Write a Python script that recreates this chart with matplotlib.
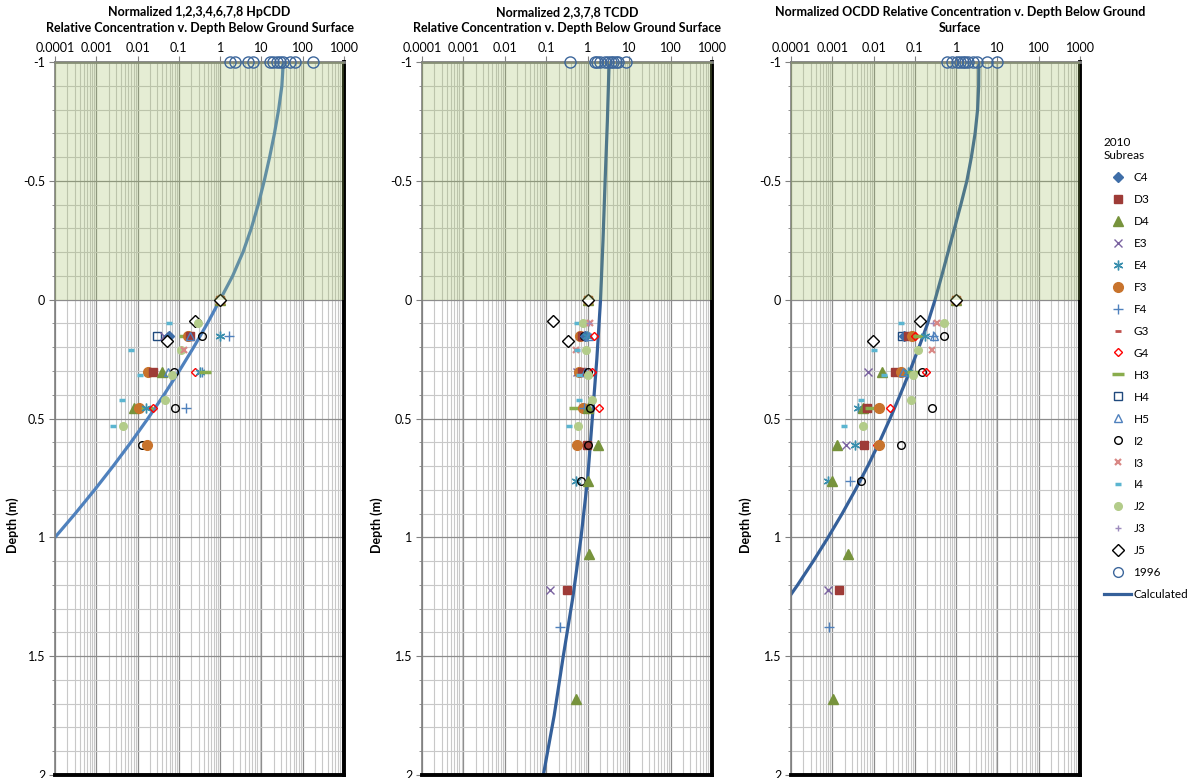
import numpy as np
import matplotlib
matplotlib.use("Agg")
import matplotlib.pyplot as plt
from matplotlib.lines import Line2D
from matplotlib.ticker import LogLocator, FixedLocator, NullFormatter, MultipleLocator


plt.rcParams['font.family'] = ['Lato', 'DejaVu Sans']

# Titles of the three panels
TITLES = [
    "Normalized 1,2,3,4,6,7,8 HpCDD\nRelative Concentration v. Depth Below Ground Surface",
    "Normalized 2,3,7,8 TCDD\nRelative Concentration v. Depth Below Ground Surface",
    "Normalized OCDD Relative Concentration v. Depth Below Ground\nSurface",
]

X_TICKS = [0.0001, 0.001, 0.01, 0.1, 1, 10, 100, 1000]
X_TICK_LABELS = ["0.0001", "0.001", "0.01", "0.1", "1", "10", "100", "1000"]
Y_TICKS = [-1, -0.5, 0, 0.5, 1, 1.5, 2]
Y_TICK_LABELS = ["-1", "-0.5", "0", "0.5", "1", "1.5", "2"]

SERIES = ["C4", "D3", "D4", "E3", "E4", "F3", "F4", "G3", "G4", "H3",
          "H4", "H5", "I2", "I3", "I4", "J2", "J3", "J5"]

# 2010 samples: (subarea, depth m, normalized concentration)
HP_SAMPLES = [
    ("D3", 0, 1), ("D4", 0, 1), ("F3", 0, 1), ("I2", 0, 1), ("J2", 0, 1), ("J5", 0, 1),
    ("J5", 0.088, 0.25), ("J2", 0.10, 0.29), ("I4", 0.10, 0.057),
    ("H4", 0.152, 0.030), ("E3", 0.152, 0.044), ("C4", 0.152, 0.057),
    ("H3", 0.152, 0.14), ("G4", 0.152, 0.16), ("F3", 0.152, 0.165), ("D3", 0.152, 0.19),
    ("H5", 0.152, 0.19), ("I2", 0.152, 0.37), ("E4", 0.152, 1.0), ("F4", 0.152, 1.6),
    ("J5", 0.172, 0.051), ("I4", 0.212, 0.0069), ("J2", 0.212, 0.11), ("I3", 0.212, 0.13),
    ("F3", 0.306, 0.018), ("D3", 0.306, 0.023), ("D4", 0.306, 0.040), ("H5", 0.306, 0.055),
    ("I2", 0.306, 0.077), ("G4", 0.306, 0.245), ("E4", 0.306, 0.33), ("F4", 0.306, 0.37),
    ("H3", 0.306, 0.43), ("I4", 0.317, 0.0115), ("J2", 0.317, 0.07),
    ("I4", 0.422, 0.0041), ("J2", 0.422, 0.046),
    ("D4", 0.457, 0.0083), ("F3", 0.457, 0.0107), ("H3", 0.457, 0.0166), ("E4", 0.457, 0.016),
    ("G4", 0.457, 0.023), ("I2", 0.457, 0.081), ("F4", 0.457, 0.15),
    ("I4", 0.53, 0.0026), ("J2", 0.53, 0.0045),
    ("I2", 0.61, 0.0128), ("F3", 0.61, 0.0166),
]

TC_SAMPLES = [
    ("D3", 0, 1), ("D4", 0, 1), ("F3", 0, 1), ("I2", 0, 1), ("J2", 0, 1), ("J5", 0, 1),
    ("J5", 0.088, 0.145), ("I4", 0.10, 0.55), ("J2", 0.10, 0.76), ("I3", 0.10, 1.15),
    ("J3", 0.10, 1.05),
    ("F3", 0.152, 0.66), ("D3", 0.152, 0.74), ("I2", 0.152, 0.81), ("C4", 0.152, 0.85),
    ("E4", 0.152, 0.95), ("H5", 0.152, 1.1), ("G4", 0.152, 1.38),
    ("J5", 0.172, 0.34), ("I3", 0.212, 0.52), ("I4", 0.212, 0.56), ("J2", 0.212, 0.89),
    ("E3", 0.306, 0.55), ("F3", 0.306, 0.62), ("D3", 0.306, 0.74), ("H5", 0.306, 0.85),
    ("I2", 0.306, 1.0), ("G4", 0.306, 1.26), ("I4", 0.317, 0.60), ("J2", 0.317, 1.04),
    ("I4", 0.422, 0.63), ("J2", 0.422, 1.29),
    ("H3", 0.457, 0.50), ("F3", 0.457, 0.76), ("F4", 0.457, 0.80), ("D4", 0.457, 1.0),
    ("I2", 0.457, 1.15), ("G4", 0.457, 1.9),
    ("I4", 0.53, 0.36), ("J2", 0.53, 0.58),
    ("F3", 0.61, 0.56), ("D3", 0.61, 0.96), ("I2", 0.61, 1.04), ("D4", 0.61, 1.74),
    ("E4", 0.761, 0.52), ("I2", 0.761, 0.68), ("D4", 0.761, 1.0),
    ("D4", 1.07, 1.07), ("E3", 1.221, 0.12), ("D3", 1.221, 0.32),
    ("F4", 1.376, 0.215), ("D4", 1.68, 0.52),
]

OC_SAMPLES = [
    ("D3", 0, 1), ("D4", 0, 1), ("F3", 0, 1), ("I2", 0, 1), ("J2", 0, 1), ("J5", 0, 1),
    ("J5", 0.088, 0.13), ("I4", 0.10, 0.046), ("J3", 0.10, 0.28), ("I3", 0.10, 0.35),
    ("J2", 0.10, 0.5),
    ("H4", 0.152, 0.048), ("C4", 0.152, 0.056), ("D3", 0.152, 0.069), ("F3", 0.152, 0.083),
    ("G4", 0.152, 0.1), ("H3", 0.152, 0.128), ("E4", 0.152, 0.18), ("F4", 0.152, 0.27),
    ("H5", 0.152, 0.29), ("I2", 0.152, 0.5),
    ("J5", 0.172, 0.0098), ("I4", 0.212, 0.01), ("J2", 0.212, 0.12), ("I3", 0.212, 0.26),
    ("E3", 0.306, 0.0074), ("D4", 0.306, 0.0157), ("D3", 0.306, 0.033), ("F3", 0.306, 0.046),
    ("H5", 0.306, 0.052), ("E4", 0.306, 0.069), ("H3", 0.306, 0.09), ("I2", 0.306, 0.145),
    ("G4", 0.306, 0.19), ("I4", 0.317, 0.018), ("J2", 0.317, 0.09),
    ("I4", 0.422, 0.005), ("J2", 0.422, 0.08),
    ("E4", 0.457, 0.0041), ("D4", 0.457, 0.0056), ("D3", 0.457, 0.0068), ("H3", 0.457, 0.0089),
    ("F3", 0.457, 0.0134), ("G4", 0.457, 0.025), ("I2", 0.457, 0.26),
    ("I4", 0.53, 0.0019), ("J2", 0.53, 0.0055),
    ("D4", 0.61, 0.0013), ("E3", 0.61, 0.0021), ("E4", 0.61, 0.0035), ("D3", 0.61, 0.006),
    ("G4", 0.61, 0.0124), ("F3", 0.61, 0.0135), ("I2", 0.61, 0.045),
    ("E4", 0.761, 0.00077), ("D4", 0.761, 0.001), ("F4", 0.761, 0.0027), ("I2", 0.761, 0.0051),
    ("D4", 1.07, 0.0024), ("E3", 1.221, 0.00079), ("D3", 1.221, 0.00145),
    ("F4", 1.376, 0.00083), ("D4", 1.68, 0.00102),
]

# 1996 samples, all plotted at depth -1
HP_1996 = [1.73, 2.28, 4.8, 6.3, 16, 19.3, 23.3, 28, 32.6, 49, 65, 177]
TC_1996 = [0.38, 1.51, 1.71, 1.99, 2.64, 3.16, 3.6, 4.17, 4.85, 5.5, 8.5]
OC_1996 = [0.59, 0.78, 1.03, 1.24, 1.43, 1.63, 1.96, 2.59, 3.24, 5.7, 9.5]
DEPTH_1996 = -1

# Calculated profiles
HP_CALC_DEPTH = [-1, -0.9, -0.8, -0.7, -0.6, -0.5, -0.4, -0.3, -0.2, -0.1, 0,
                 0.1, 0.2, 0.3, 0.4, 0.5, 0.6, 0.7, 0.8, 0.9, 1.0, 1.1]
HP_CALC = [33.9, 31.3, 26.1, 20.7, 15.8, 11.7, 8.37, 5.68, 3.58, 2.01, 1.0,
           0.49, 0.229, 0.102, 0.0437, 0.0178, 0.00692, 0.00257, 0.000912, 0.000309,
           0.0001, 0.0000309]
TC_CALC_DEPTH = [-1, -0.75, -0.5, -0.25, 0, 0.25, 0.5, 0.75, 1.0, 1.25, 1.5, 1.75, 2.0]
TC_CALC = [3.29, 2.98, 2.63, 2.34, 2.04, 1.66, 1.29, 1.0, 0.69, 0.44, 0.257, 0.155, 0.085]
OC_CALC_DEPTH = [-1, -0.9, -0.8, -0.7, -0.6, -0.5, -0.4, -0.3, -0.2, -0.1, 0,
                 0.1, 0.2, 0.3, 0.4, 0.5, 0.6, 0.7, 0.8, 0.9, 1.0, 1.1, 1.2, 1.3]
OC_CALC = [3.55, 3.51, 3.31, 2.88, 2.34, 1.82, 1.30, 0.912, 0.638, 0.447, 0.309,
           0.204, 0.126, 0.0759, 0.0442, 0.0251, 0.0138, 0.00724, 0.00363, 0.00174,
           0.000794, 0.000347, 0.000145, 0.0000575]

# marker styles per subarea
STYLE = {
    "C4": dict(marker="D", color="#3f6ea8", ms=5),
    "D3": dict(marker="s", color="#9e3b37", ms=6),
    "D4": dict(marker="^", color="#77933c", ms=7),
    "E3": dict(marker="x", color="#7a62a0", ms=6, mew=1),
    "E4": dict(marker=(6, 2, 0), color="#3a8fae", ms=7, mew=1),
    "F3": dict(marker="o", color="#c8732c", ms=7),
    "F4": dict(marker="+", color="#4f81bd", ms=7, mew=1),
    "G3": dict(marker="_", color="#c0504d", ms=4, mew=2),
    "G4": dict(marker="D", color="#ff0000", ms=4.5, mew=1, mfc="none"),
    "H3": dict(marker="_", color="#8aad4d", ms=9, mew=2.5),
    "H4": dict(marker="s", color="#1f497d", ms=6, mew=1, mfc="none"),
    "H5": dict(marker="^", color="#4f81bd", ms=6, mew=1, mfc="none"),
    "I2": dict(marker="o", color="#000000", ms=5.5, mew=1, mfc="none"),
    "I3": dict(marker="x", color="#d98885", ms=5, mew=1.6),
    "I4": dict(marker="_", color="#5bb5d0", ms=5, mew=2.5),
    "J2": dict(marker="o", color="#b3cc8a", ms=5.5),
    "J3": dict(marker="+", color="#9d8bbd", ms=5, mew=1),
    "J5": dict(marker="D", color="#000000", ms=6, mew=1, mfc="white"),
}
STYLE_1996 = dict(marker="o", color="#3d679c", ms=8, mew=1, mfc="none")
CALC_COLORS = ["#4f81bd", "#35609a", "#35609a"]

fig = plt.figure(figsize=(11.91, 7.78), dpi=100)
W, H = 1191.0, 778.0
ax_boxes = [(55, 344), (422, 712), (791, 1080)]
title_centers = [199.5, 567, 960]
panels = [
    (HP_SAMPLES, HP_1996, HP_CALC_DEPTH, HP_CALC),
    (TC_SAMPLES, TC_1996, TC_CALC_DEPTH, TC_CALC),
    (OC_SAMPLES, OC_1996, OC_CALC_DEPTH, OC_CALC),
]

for i, (samples, old, cdepth, calc) in enumerate(panels):
    x0, x1 = ax_boxes[i]
    ax = fig.add_axes([x0 / W, 1 - 775 / H, (x1 - x0) / W, 713 / H])
    ax.set_xscale("log")
    ax.set_xlim(1e-4, 1e3)
    ax.set_ylim(2, -1)
    ax.set_axisbelow(True)

    ax.xaxis.tick_top()
    ax.xaxis.set_major_locator(FixedLocator(X_TICKS))
    ax.set_xticklabels(X_TICK_LABELS, fontsize=9)
    ax.xaxis.set_minor_locator(LogLocator(base=10, subs=np.arange(2, 10), numticks=30))
    ax.xaxis.set_minor_formatter(NullFormatter())
    ax.yaxis.set_major_locator(FixedLocator(Y_TICKS))
    ax.set_yticklabels(Y_TICK_LABELS, fontsize=9)
    ax.yaxis.set_minor_locator(MultipleLocator(0.1))
    ax.tick_params(axis="x", which="major", length=4, color="#808080", pad=2)
    ax.tick_params(axis="x", which="minor", length=0)
    ax.tick_params(axis="y", which="major", length=4, color="#808080", pad=3)
    ax.tick_params(axis="y", which="minor", length=2.5, color="#808080")

    ax.grid(True, which="major", color="#8c8c8c", lw=0.9)
    ax.grid(True, which="minor", color="#c8c8c8", lw=0.8)

    for s in ("top", "left"):
        ax.spines[s].set_color("#7f7f7f")
    ax.spines["top"].set_linewidth(2)
    ax.spines["left"].set_linewidth(1.2)
    for s in ("right", "bottom"):
        ax.spines[s].set_color("black")
        ax.spines[s].set_linewidth(2.8)

    ax.plot(calc, cdepth, color=CALC_COLORS[i], lw=2.3, zorder=2, solid_capstyle="butt",
            solid_joinstyle="round")

    for name, depth, conc in samples:
        st = dict(STYLE[name])
        ax.plot([conc], [depth], ls="none", marker=st.pop("marker"), color=st.pop("color"),
                markersize=st.pop("ms"), zorder=2.5, **st)

    ax.axhspan(-1, 0, color="#9bbb59", alpha=0.26, lw=0, zorder=3)

    ax.plot(old, [DEPTH_1996] * len(old), ls="none", marker=STYLE_1996["marker"],
            color=STYLE_1996["color"], markersize=STYLE_1996["ms"], mew=1, mfc="none",
            zorder=6, clip_on=False)

    ax.set_ylabel("Depth (m)", fontsize=9, fontweight="bold")
    ax.yaxis.set_label_coords(-0.125 if i == 0 else -0.135, 0.35)

    fig.text(title_centers[i] / W, 1 - 6 / H, TITLES[i], ha="center", va="top",
             fontsize=9, fontweight="bold", linespacing=1.35)

# legend
handles = []
for name in SERIES:
    st = dict(STYLE[name])
    handles.append(Line2D([0], [0], ls="none", marker=st.pop("marker"), color=st.pop("color"),
                          markersize=st.pop("ms"), **st))
handles.append(Line2D([0], [0], ls="none", marker="o", color=STYLE_1996["color"],
                      markersize=7, mew=1, mfc="none"))
handles.append(Line2D([0], [0], color="#35609a", lw=2.3))
labels = SERIES + ["1996", "Calculated"]
leg = fig.legend(handles, labels, loc="upper left", bbox_to_anchor=(1104 / W, 1 - 137 / H),
                 frameon=False, fontsize=8.5, title="2010\nSubreas", title_fontsize=8.5,
                 labelspacing=0.93, handlelength=2.3, handletextpad=0.2, alignment="left",
                 borderaxespad=0, borderpad=0)

fig.savefig("out.png", dpi=100)
